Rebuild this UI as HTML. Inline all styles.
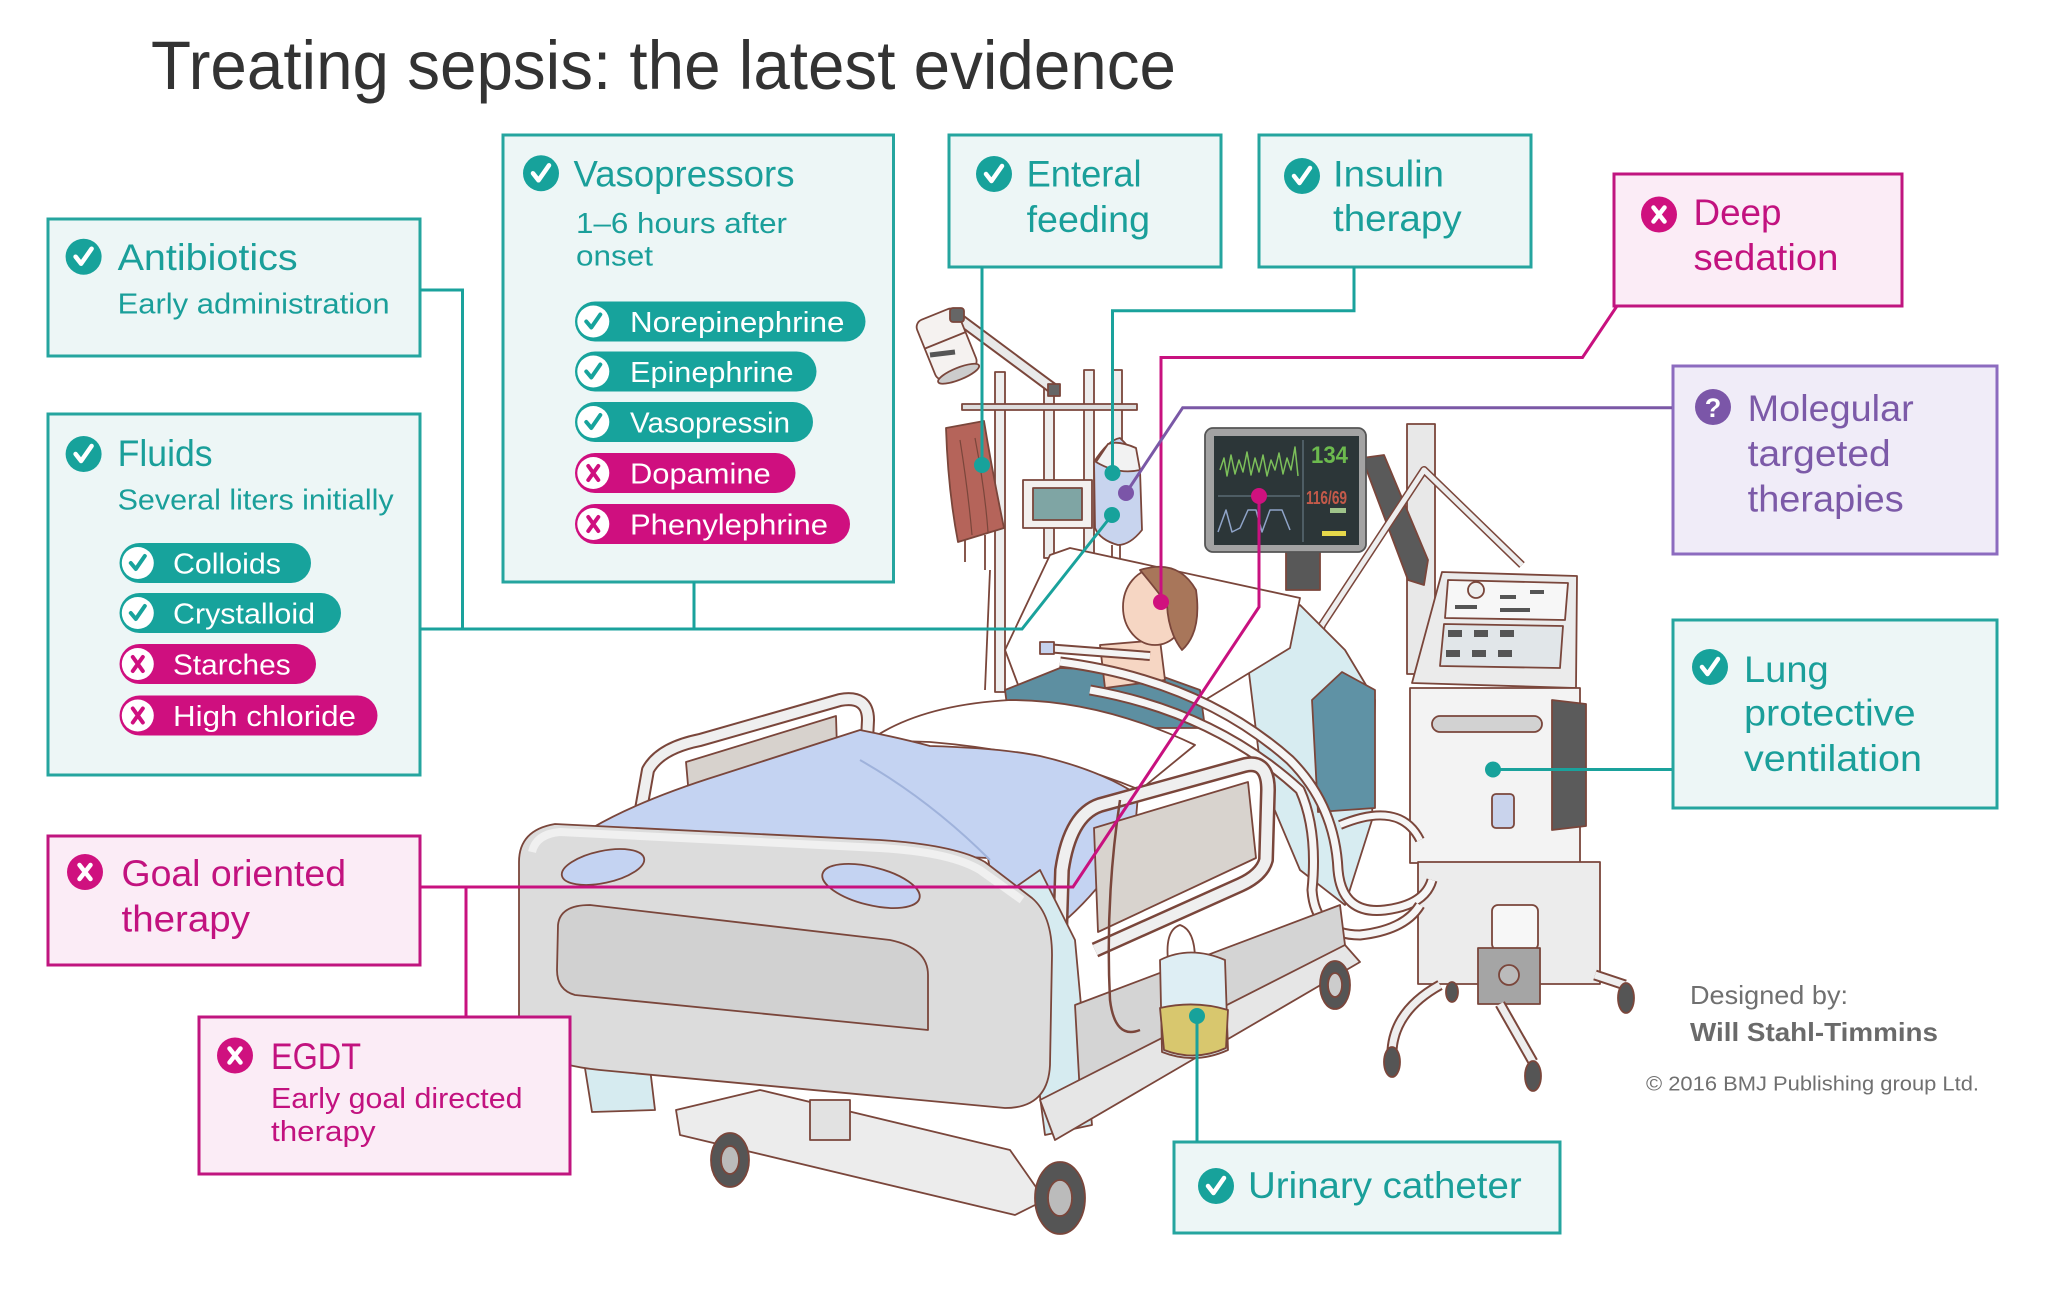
<!DOCTYPE html>
<html><head><meta charset="utf-8"><style>
html,body{margin:0;padding:0;background:#fff;}
svg{display:block;}
text{font-family:"Liberation Sans",sans-serif;}
.h{font-size:37px;}
.s{font-size:29px;}
.t{fill:#1a9f9a;}
.p{fill:#c2127f;}
.u{fill:#7c5aa8;}
.w{fill:#fff;}
</style></head><body>
<svg width="2048" height="1294" viewBox="0 0 2048 1294" xmlns="http://www.w3.org/2000/svg" xmlns:xlink="http://www.w3.org/1999/xlink">
<defs>
<g id="chk"><circle r="18" fill="#17a29b"/><path d="M-8,0 L-2.5,7 L8,-8" fill="none" stroke="#fff" stroke-width="4.5" stroke-linecap="round" stroke-linejoin="round"/></g>
<g id="crs"><circle r="18" fill="#cf117f"/><path d="M-5.5,-7 L5.5,7 M5.5,-7 L-5.5,7" fill="none" stroke="#fff" stroke-width="4.5" stroke-linecap="round"/></g>
<g id="pchk"><circle r="16" fill="#fff"/><path d="M-7,0 L-2,6 L7,-7" fill="none" stroke="#17a39c" stroke-width="4" stroke-linecap="round" stroke-linejoin="round"/></g>
<g id="pcrs"><circle r="16" fill="#fff"/><path d="M-5,-7 L5,7 M5,-7 L-5,7" fill="none" stroke="#cf0f7f" stroke-width="4" stroke-linecap="round"/></g>
</defs>

<rect width="2048" height="1294" fill="#fff"/>

<!-- Title -->
<text x="151" y="89" font-size="69" fill="#333" textLength="1025" lengthAdjust="spacingAndGlyphs">Treating sepsis: the latest evidence</text>

<!-- ============ ILLUSTRATION ============ -->
<g stroke="#7a463b" stroke-width="1.8" stroke-linejoin="round">
  <!-- IV poles -->
  <rect x="995" y="372" width="10" height="320" fill="#eeeeee"/>
  <rect x="1044" y="388" width="10" height="170" fill="#eeeeee"/>
  <rect x="1084" y="370" width="10" height="195" fill="#eeeeee"/>
  <rect x="1112" y="370" width="10" height="170" fill="#eeeeee"/>
  <rect x="962" y="404" width="175" height="6" fill="#dddddd"/>
  <path d="M958,318 L1055,390" stroke="#7a463b" stroke-width="12" fill="none"/>
  <path d="M958,318 L1055,390" stroke="#e9e9e9" stroke-width="8" fill="none"/>
  <g transform="rotate(-22 947 345)">
    <rect x="925" y="312" width="44" height="64" rx="8" fill="#f5f2f0"/>
    <line x1="925" y1="340" x2="969" y2="340"/>
    <ellipse cx="947" cy="376" rx="22" ry="6" fill="#ccc"/>
  </g>
  <rect x="950" y="308" width="14" height="14" rx="3" fill="#666"/>
  <rect x="1048" y="384" width="12" height="12" fill="#666"/>
  <path d="M930,355 L955,352" stroke="#555" stroke-width="5"/>
  <!-- red bag -->
  <path d="M946,428 L984,421 Q992,470 1004,528 L958,542 Q948,490 946,428 Z" fill="#b5645a"/>
  <path d="M960,440 Q968,490 972,535" fill="none" stroke-width="1.2"/>
  <path d="M975,438 Q985,490 988,532" fill="none" stroke-width="1.2"/>
  <line x1="965" y1="540" x2="965" y2="562"/>
  <line x1="985" y1="535" x2="985" y2="570"/>
  <line x1="990" y1="570" x2="985" y2="690" fill="none"/>
  <!-- pump -->
  <rect x="1023" y="480" width="69" height="48" fill="#f3f0ee"/>
  <rect x="1033" y="488" width="49" height="32" fill="#7fa5a4"/>
  <!-- IV bag -->
  <path d="M1094,462 Q1108,440 1120,438 Q1138,455 1140,470 L1142,530 Q1130,545 1118,545 Q1100,540 1095,528 Z" fill="#c8d4ee"/>
  <path d="M1096,462 Q1118,475 1140,470 L1136,448 Q1118,440 1108,444 Z" fill="#f2f2f2"/>
  <line x1="1112" y1="545" x2="1112" y2="565"/>
  <line x1="1120" y1="545" x2="1120" y2="565"/>

  <!-- monitor pole & arm -->
  <rect x="1407" y="424" width="28" height="250" fill="#e8e8e8"/>
  <polygon points="1362,458 1384,455 1428,560 1424,585 1408,580" fill="#5a5a5a"/>
  <rect x="1286" y="548" width="34" height="42" fill="#585858"/>
  <!-- monitor -->
  <rect x="1205" y="428" width="161" height="124" rx="8" fill="#a3a3a3" stroke="#555"/>
  <rect x="1214" y="436" width="145" height="109" fill="#2c3638" stroke="none"/>
  <line x1="1303" y1="440" x2="1303" y2="542" stroke="#5a6a72" stroke-width="1.5"/>
  <line x1="1218" y1="496" x2="1300" y2="496" stroke="#5a6a72" stroke-width="1.5"/>
  <polyline points="1220,470 1224,458 1227,476 1231,455 1235,474 1239,460 1243,472 1247,452 1251,475 1255,458 1259,472 1263,455 1267,476 1271,460 1275,470 1279,453 1283,474 1287,458 1291,470 1295,447 1298,476" fill="none" stroke="#7cc05a" stroke-width="1.5"/>
  <polyline points="1218,532 1226,510 1232,532 1240,528 1248,510 1256,510 1262,532 1270,510 1282,510 1290,530" fill="none" stroke="#8fa4c8" stroke-width="1.5"/>
  <rect x="1322" y="531" width="24" height="5" fill="#e6d84a" stroke="none"/>
  <rect x="1330" y="508" width="16" height="5" fill="#9fc48a" stroke="none"/>

  <!-- ventilator arms -->
  <path d="M1290,740 L1322,625 L1424,470 L1522,565" stroke="#7a463b" stroke-width="8" fill="none"/>
  <path d="M1290,740 L1322,625 L1424,470 L1522,565" stroke="#eeeeee" stroke-width="5" fill="none"/>
  <!-- ventilator head -->
  <polygon points="1442,572 1577,576 1576,688 1412,683" fill="#ebebeb"/>
  <polygon points="1448,580 1568,583 1565,620 1445,618" fill="#f7f7f7"/>
  <polygon points="1444,624 1563,626 1560,668 1440,666" fill="#e1e6e9"/>
  <circle cx="1476" cy="590" r="8" fill="#eee"/>
  <g fill="#555" stroke="none">
    <rect x="1500" y="595" width="16" height="4"/><rect x="1530" y="590" width="14" height="4"/><rect x="1455" y="605" width="22" height="4"/><rect x="1500" y="608" width="30" height="4"/>
    <rect x="1448" y="630" width="14" height="7"/><rect x="1474" y="630" width="14" height="7"/><rect x="1500" y="630" width="14" height="7"/>
    <rect x="1446" y="650" width="14" height="7"/><rect x="1472" y="650" width="14" height="7"/><rect x="1498" y="650" width="14" height="7"/>
  </g>
  <!-- ventilator body -->
  <rect x="1410" y="688" width="170" height="175" fill="#f3f3f3"/>
  <rect x="1432" y="716" width="110" height="16" rx="8" fill="#d2d2d2"/>
  <polygon points="1552,700 1586,704 1586,826 1552,830" fill="#5b5b5b"/>
  <rect x="1492" y="794" width="22" height="34" rx="4" fill="#c9d3ec"/>
  <rect x="1418" y="862" width="182" height="122" fill="#ececec"/>
  <rect x="1492" y="905" width="46" height="45" rx="6" fill="#f7f7f7"/>
  <rect x="1478" y="948" width="62" height="56" fill="#a5a5a5"/>
  <circle cx="1509" cy="975" r="10" fill="#bbbbbb"/>
  <g fill="none">
    <path d="M1440,985 Q1395,1010 1392,1050" stroke="#7a463b" stroke-width="11"/>
    <path d="M1440,985 Q1395,1010 1392,1050" stroke="#eeeeee" stroke-width="7"/>
    <path d="M1500,1004 L1533,1062" stroke="#7a463b" stroke-width="11"/>
    <path d="M1500,1004 L1533,1062" stroke="#eeeeee" stroke-width="7"/>
    <path d="M1595,975 L1625,985" stroke="#7a463b" stroke-width="11"/>
    <path d="M1595,975 L1625,985" stroke="#eeeeee" stroke-width="7"/>
  </g>
  <ellipse cx="1392" cy="1062" rx="8" ry="15" fill="#555"/>
  <ellipse cx="1533" cy="1076" rx="8" ry="15" fill="#555"/>
  <ellipse cx="1626" cy="998" rx="8" ry="15" fill="#555"/>
  <ellipse cx="1452" cy="992" rx="6" ry="10" fill="#555"/>

  <!-- right drape & backrest -->
  <polygon points="1245,640 1300,605 1345,650 1375,700 1372,820 1345,905 1300,870 1262,780" fill="#d7ecf1"/>
  <polygon points="1312,700 1342,672 1375,690 1375,808 1318,812" fill="#5f92a5"/>
  <!-- pillow -->
  <polygon points="1050,555 1070,548 1300,598 1290,648 1205,700 1020,690 1005,650" fill="#ffffff"/>
  <!-- gown -->
  <polygon points="1005,690 1060,668 1150,672 1200,690 1205,728 1010,728" fill="#5d8fa1"/>
  <!-- neck / face / hair -->
  <polygon points="1100,645 1160,640 1165,680 1105,688" fill="#f6d6c3"/>
  <ellipse cx="1155" cy="607" rx="32" ry="38" fill="#f6d6c3"/>
  <path d="M1140,570 Q1178,558 1196,590 Q1202,632 1182,650 Q1168,632 1167,604 Q1155,588 1140,570 Z" fill="#a8765a"/>
  <!-- mouth tube -->
  <path d="M1045,648 L1150,656" stroke="#7a463b" stroke-width="10" fill="none"/>
  <path d="M1045,648 L1150,656" stroke="#f4f4f4" stroke-width="6" fill="none"/>
  <rect x="1040" y="642" width="14" height="12" fill="#c5d2ee"/>
  <!-- white sheet -->
  <path d="M870,740 Q920,705 1010,700 Q1100,700 1195,745 L1140,790 Q1050,752 930,742 Z" fill="#ffffff"/>
  <!-- left side rail -->
  <path d="M640,815 L648,770 Q660,748 700,740 L840,700 Q868,695 868,720 L866,760" fill="none" stroke="#7a463b" stroke-width="14"/>
  <path d="M640,815 L648,770 Q660,748 700,740 L840,700 Q868,695 868,720 L866,760" fill="none" stroke="#efefef" stroke-width="10"/>
  <polygon points="686,762 836,716 838,782 690,808" fill="#d7d2cd"/>
  <!-- blanket -->
  <path d="M592,828 Q640,800 720,775 L860,730 Q900,738 930,746 Q1000,748 1040,756 Q1100,770 1138,795 L1135,830 Q1110,880 1068,918 L1030,942 L995,900 L988,858 L592,840 Z" fill="#c4d3f2"/>
  <path d="M860,760 Q930,800 990,860" fill="none" stroke="#9fb2db" stroke-width="2"/>
  <!-- tubes -->
  <g fill="none">
    <path d="M1060,662 Q1200,680 1290,760 Q1335,805 1338,870 Q1342,915 1385,910 Q1425,905 1432,880" stroke="#7a463b" stroke-width="11"/>
    <path d="M1060,662 Q1200,680 1290,760 Q1335,805 1338,870 Q1342,915 1385,910 Q1425,905 1432,880" stroke="#f6f6f6" stroke-width="7"/>
    <path d="M1090,690 Q1215,712 1300,790 Q1318,830 1312,890 Q1315,935 1360,935 Q1405,930 1420,905" stroke="#7a463b" stroke-width="11"/>
    <path d="M1090,690 Q1215,712 1300,790 Q1318,830 1312,890 Q1315,935 1360,935 Q1405,930 1420,905" stroke="#f6f6f6" stroke-width="7"/>
    <path d="M1340,825 Q1400,800 1420,840" stroke="#7a463b" stroke-width="10"/>
    <path d="M1340,825 Q1400,800 1420,840" stroke="#f6f6f6" stroke-width="6"/>
  </g>
  <!-- right side rail -->
  <path d="M1060,935 L1062,870 Q1070,815 1100,805 L1245,765 Q1268,760 1268,790 L1266,860 Q1262,875 1240,885 L1095,950" fill="none" stroke="#7a463b" stroke-width="16"/>
  <path d="M1060,935 L1062,870 Q1070,815 1100,805 L1245,765 Q1268,760 1268,790 L1266,860 Q1262,875 1240,885 L1095,950" fill="none" stroke="#efefef" stroke-width="11"/>
  <polygon points="1094,828 1248,782 1256,858 1098,932" fill="#d8d3ce"/>
  <!-- right drape hanging -->
  <polygon points="990,905 1040,870 1075,940 1092,1125 1045,1135 1030,1020" fill="#d6ebf0"/>
  <!-- under-bed frame -->
  <polygon points="1075,1005 1340,905 1345,945 1080,1095" fill="#d4d4d4"/>
  <polygon points="1040,1100 1345,945 1360,962 1055,1140" fill="#e6e6e6"/>
  <polygon points="676,1110 760,1090 1010,1150 1045,1200 1015,1215 680,1135" fill="#ececec"/>
  <rect x="810" y="1100" width="40" height="40" fill="#e2e2e2"/>
  <ellipse cx="1335" cy="985" rx="15" ry="24" fill="#555"/>
  <ellipse cx="1335" cy="985" rx="7" ry="12" fill="#ccc"/>
  <!-- urine bag -->
  <path d="M1168,960 Q1165,930 1180,925 Q1195,930 1195,960" fill="none"/>
  <path d="M1160,960 Q1190,945 1225,960 L1228,1050 Q1195,1065 1162,1052 Z" fill="#deeef4"/>
  <path d="M1160,1008 Q1195,1000 1228,1010 L1226,1048 Q1195,1062 1164,1050 Z" fill="#d8c76e"/>
  <path d="M1120,800 Q1105,900 1110,1000 Q1115,1040 1140,1030" fill="none" stroke-width="2.5"/>
  <!-- front drape left -->
  <polygon points="584,1062 650,1068 655,1110 592,1112" fill="#d6ebf0"/>
  <!-- footboard -->
  <path d="M519,862 Q519,830 555,824 L880,840 Q955,845 985,862 L1032,898 Q1052,915 1052,955 L1050,1065 Q1048,1108 1005,1108 L600,1070 Q519,1062 519,1020 Z" fill="#dcdcdc"/>
  <path d="M532,852 Q536,834 560,832 L880,848 Q950,852 980,870 L1022,900" fill="none" stroke="#f0f0f0" stroke-width="8"/>
  <path d="M558,925 Q560,905 590,905 L890,940 Q928,948 928,975 L928,1030 L575,995 Q557,990 557,970 Z" fill="#d1d1d1"/>
  <ellipse cx="603" cy="867" rx="42" ry="16" transform="rotate(-12 603 867)" fill="#c4d3f2"/>
  <ellipse cx="871" cy="886" rx="50" ry="19" transform="rotate(14 871 886)" fill="#c4d3f2"/>
  <!-- front wheels -->
  <ellipse cx="730" cy="1160" rx="19" ry="27" fill="#555"/>
  <ellipse cx="730" cy="1160" rx="9" ry="14" fill="#bbb"/>
  <ellipse cx="1060" cy="1198" rx="25" ry="36" fill="#555"/>
  <ellipse cx="1060" cy="1198" rx="12" ry="18" fill="#bbb"/>
</g>

<!-- ============ BOXES ============ -->
<g stroke-width="3">
  <rect x="48" y="219" width="372" height="137" fill="#edf6f6" stroke="#25a59f"/>
  <rect x="48" y="414" width="372" height="361" fill="#edf6f6" stroke="#25a59f"/>
  <rect x="503" y="135" width="390.5" height="447" fill="#edf6f6" stroke="#25a59f"/>
  <rect x="949" y="135" width="272" height="132" fill="#edf6f6" stroke="#25a59f"/>
  <rect x="1259" y="135" width="272" height="132" fill="#edf6f6" stroke="#25a59f"/>
  <rect x="1614" y="174" width="288" height="132" fill="#fbecf6" stroke="#c0157f"/>
  <rect x="1673" y="366" width="324" height="188" fill="#f0ecf8" stroke="#8c6bbf"/>
  <rect x="1673" y="620" width="324" height="188" fill="#edf6f6" stroke="#25a59f"/>
  <rect x="1174" y="1142" width="386" height="91" fill="#edf6f6" stroke="#25a59f"/>
  <rect x="48" y="836" width="372" height="129" fill="#fbecf6" stroke="#c0157f"/>
  <rect x="199" y="1017" width="371" height="157" fill="#fbecf6" stroke="#c0157f"/>
</g>

<!-- Pills -->
<g>
  <rect x="575" y="301.5" width="290.5" height="40" rx="20" fill="#17a39c"/>
  <rect x="575" y="351.5" width="241.5" height="40" rx="20" fill="#17a39c"/>
  <rect x="575" y="402" width="238" height="40" rx="20" fill="#17a39c"/>
  <rect x="575" y="453" width="220.5" height="40" rx="20" fill="#cf0f7f"/>
  <rect x="575" y="504" width="275" height="40" rx="20" fill="#cf0f7f"/>
  <use xlink:href="#pchk" href="#pchk" x="593.3" y="321.5"/>
  <use xlink:href="#pchk" href="#pchk" x="593.3" y="371.5"/>
  <use xlink:href="#pchk" href="#pchk" x="593.3" y="422"/>
  <use xlink:href="#pcrs" href="#pcrs" x="593.3" y="473"/>
  <use xlink:href="#pcrs" href="#pcrs" x="593.3" y="524"/>
  <text x="630" y="332" class="s w" textLength="214.5" lengthAdjust="spacingAndGlyphs">Norepinephrine</text>
  <text x="630" y="382" class="s w" textLength="163.6" lengthAdjust="spacingAndGlyphs">Epinephrine</text>
  <text x="630" y="432.5" class="s w" textLength="160" lengthAdjust="spacingAndGlyphs">Vasopressin</text>
  <text x="630" y="483.5" class="s w" textLength="140.7" lengthAdjust="spacingAndGlyphs">Dopamine</text>
  <text x="630" y="534.5" class="s w" textLength="198" lengthAdjust="spacingAndGlyphs">Phenylephrine</text>

  <rect x="119.5" y="543" width="191.5" height="40" rx="20" fill="#17a39c"/>
  <rect x="119.5" y="593" width="221.5" height="40" rx="20" fill="#17a39c"/>
  <rect x="119.5" y="644" width="196.5" height="40" rx="20" fill="#cf0f7f"/>
  <rect x="119.5" y="695.5" width="258" height="40" rx="20" fill="#cf0f7f"/>
  <use xlink:href="#pchk" href="#pchk" x="137.8" y="563"/>
  <use xlink:href="#pchk" href="#pchk" x="137.8" y="613"/>
  <use xlink:href="#pcrs" href="#pcrs" x="137.8" y="664"/>
  <use xlink:href="#pcrs" href="#pcrs" x="137.8" y="715.5"/>
  <text x="173" y="573.5" class="s w" textLength="108" lengthAdjust="spacingAndGlyphs">Colloids</text>
  <text x="173" y="623.5" class="s w" textLength="142" lengthAdjust="spacingAndGlyphs">Crystalloid</text>
  <text x="173" y="674.5" class="s w" textLength="117.6" lengthAdjust="spacingAndGlyphs">Starches</text>
  <text x="173" y="726" class="s w" textLength="183" lengthAdjust="spacingAndGlyphs">High chloride</text>
</g>

<!-- Icons -->
<use xlink:href="#chk" href="#chk" x="83.6" y="256.7"/>
<use xlink:href="#chk" href="#chk" x="83.6" y="454"/>
<use xlink:href="#chk" href="#chk" x="541" y="173.3"/>
<use xlink:href="#chk" href="#chk" x="994" y="174"/>
<use xlink:href="#chk" href="#chk" x="1302" y="176"/>
<use xlink:href="#chk" href="#chk" x="1710" y="667"/>
<use xlink:href="#chk" href="#chk" x="1216" y="1186"/>
<use xlink:href="#crs" href="#crs" x="1659" y="214.5"/>
<use xlink:href="#crs" href="#crs" x="85" y="872"/>
<use xlink:href="#crs" href="#crs" x="235" y="1055.5"/>
<circle cx="1713" cy="407" r="18" fill="#7b56a8"/>
<text x="1713" y="417" font-size="27" font-weight="bold" fill="#fff" text-anchor="middle">?</text>

<!-- Box texts -->
<text x="117.6" y="270" class="h t" textLength="180" lengthAdjust="spacingAndGlyphs">Antibiotics</text>
<text x="117.6" y="313.6" class="s t" textLength="272" lengthAdjust="spacingAndGlyphs">Early administration</text>
<text x="117.6" y="466" class="h t" textLength="95" lengthAdjust="spacingAndGlyphs">Fluids</text>
<text x="117.6" y="509.6" class="s t" textLength="276" lengthAdjust="spacingAndGlyphs">Several liters initially</text>
<text x="573.5" y="186.5" class="h t" textLength="221" lengthAdjust="spacingAndGlyphs">Vasopressors</text>
<text x="576" y="233" class="s t" textLength="211" lengthAdjust="spacingAndGlyphs">1–6 hours after</text>
<text x="576" y="265.5" class="s t" textLength="77" lengthAdjust="spacingAndGlyphs">onset</text>
<text x="1026.6" y="186.5" class="h t" textLength="115" lengthAdjust="spacingAndGlyphs">Enteral</text>
<text x="1026.6" y="232" class="h t" textLength="123.4" lengthAdjust="spacingAndGlyphs">feeding</text>
<text x="1333" y="186.5" class="h t" textLength="111" lengthAdjust="spacingAndGlyphs">Insulin</text>
<text x="1333" y="231" class="h t" textLength="128.6" lengthAdjust="spacingAndGlyphs">therapy</text>
<text x="1693.5" y="225" class="h p" textLength="88" lengthAdjust="spacingAndGlyphs">Deep</text>
<text x="1693.5" y="270" class="h p" textLength="145" lengthAdjust="spacingAndGlyphs">sedation</text>
<text x="1747.7" y="421" class="h u" textLength="166" lengthAdjust="spacingAndGlyphs">Molegular</text>
<text x="1747.7" y="466" class="h u" textLength="143" lengthAdjust="spacingAndGlyphs">targeted</text>
<text x="1747.7" y="511.6" class="h u" textLength="156" lengthAdjust="spacingAndGlyphs">therapies</text>
<text x="1744" y="682" class="h t" textLength="84.7" lengthAdjust="spacingAndGlyphs">Lung</text>
<text x="1744" y="725.4" class="h t" textLength="171.6" lengthAdjust="spacingAndGlyphs">protective</text>
<text x="1744" y="770.8" class="h t" textLength="178" lengthAdjust="spacingAndGlyphs">ventilation</text>
<text x="1248" y="1198" class="h t" textLength="273.7" lengthAdjust="spacingAndGlyphs">Urinary catheter</text>
<text x="121.5" y="886" class="h p" textLength="224.5" lengthAdjust="spacingAndGlyphs">Goal oriented</text>
<text x="121.5" y="931.7" class="h p" textLength="128.5" lengthAdjust="spacingAndGlyphs">therapy</text>
<text x="271" y="1069" class="h p" textLength="90" lengthAdjust="spacingAndGlyphs">EGDT</text>
<text x="271" y="1108" class="s p" textLength="251.5" lengthAdjust="spacingAndGlyphs">Early goal directed</text>
<text x="271" y="1141" class="s p" textLength="104.6" lengthAdjust="spacingAndGlyphs">therapy</text>

<!-- Connectors -->
<g fill="none" stroke-width="3">
  <path d="M420,290 H462.5 V629" stroke="#1aa29c"/>
  <path d="M420,629 H1022 L1112,515" stroke="#1aa29c"/>
  <path d="M694,582 V629" stroke="#1aa29c"/>
  <path d="M982,267 V465" stroke="#1aa29c"/>
  <path d="M1354,267 V310.7 H1112.5 V473" stroke="#1aa29c"/>
  <path d="M1672,769.5 H1493" stroke="#1aa29c"/>
  <path d="M1197,1142 V1016" stroke="#1aa29c"/>
  <path d="M1617,306 L1582.5,357.5 H1161 V602" stroke="#c8117f"/>
  <path d="M420,887 H1073 L1259,607 V496" stroke="#c8117f"/>
  <path d="M466,887 V1017" stroke="#c8117f"/>
  <path d="M1672,407.7 H1182.7 L1126,493" stroke="#7a58a6"/>
</g>
<g>
  <circle cx="1112" cy="515" r="8" fill="#17a29b"/>
  <circle cx="982" cy="465" r="8" fill="#17a29b"/>
  <circle cx="1112.5" cy="473" r="8" fill="#17a29b"/>
  <circle cx="1493" cy="769.5" r="8" fill="#17a29b"/>
  <circle cx="1197" cy="1016" r="8" fill="#17a29b"/>
  <circle cx="1161" cy="602" r="8" fill="#d0117e"/>
  <circle cx="1259" cy="496" r="8" fill="#d0117e"/>
  <circle cx="1126" cy="493" r="8" fill="#7b55a8"/>
</g>

<!-- Monitor numbers -->
<text x="1311" y="463" font-size="24" font-weight="bold" fill="#6cba4e" textLength="37" lengthAdjust="spacingAndGlyphs">134</text>
<text x="1306" y="504" font-size="18" font-weight="bold" fill="#c45a4a" textLength="41" lengthAdjust="spacingAndGlyphs">116/69</text>

<!-- Credits -->
<text x="1690" y="1004" font-size="26" fill="#707070" textLength="158" lengthAdjust="spacingAndGlyphs">Designed by:</text>
<text x="1690" y="1041" font-size="26" font-weight="bold" fill="#6a6a6a" textLength="248" lengthAdjust="spacingAndGlyphs">Will Stahl-Timmins</text>
<text x="1646" y="1090.6" font-size="20" fill="#707070" textLength="333" lengthAdjust="spacingAndGlyphs">© 2016 BMJ Publishing group Ltd.</text>
</svg>
</body></html>
